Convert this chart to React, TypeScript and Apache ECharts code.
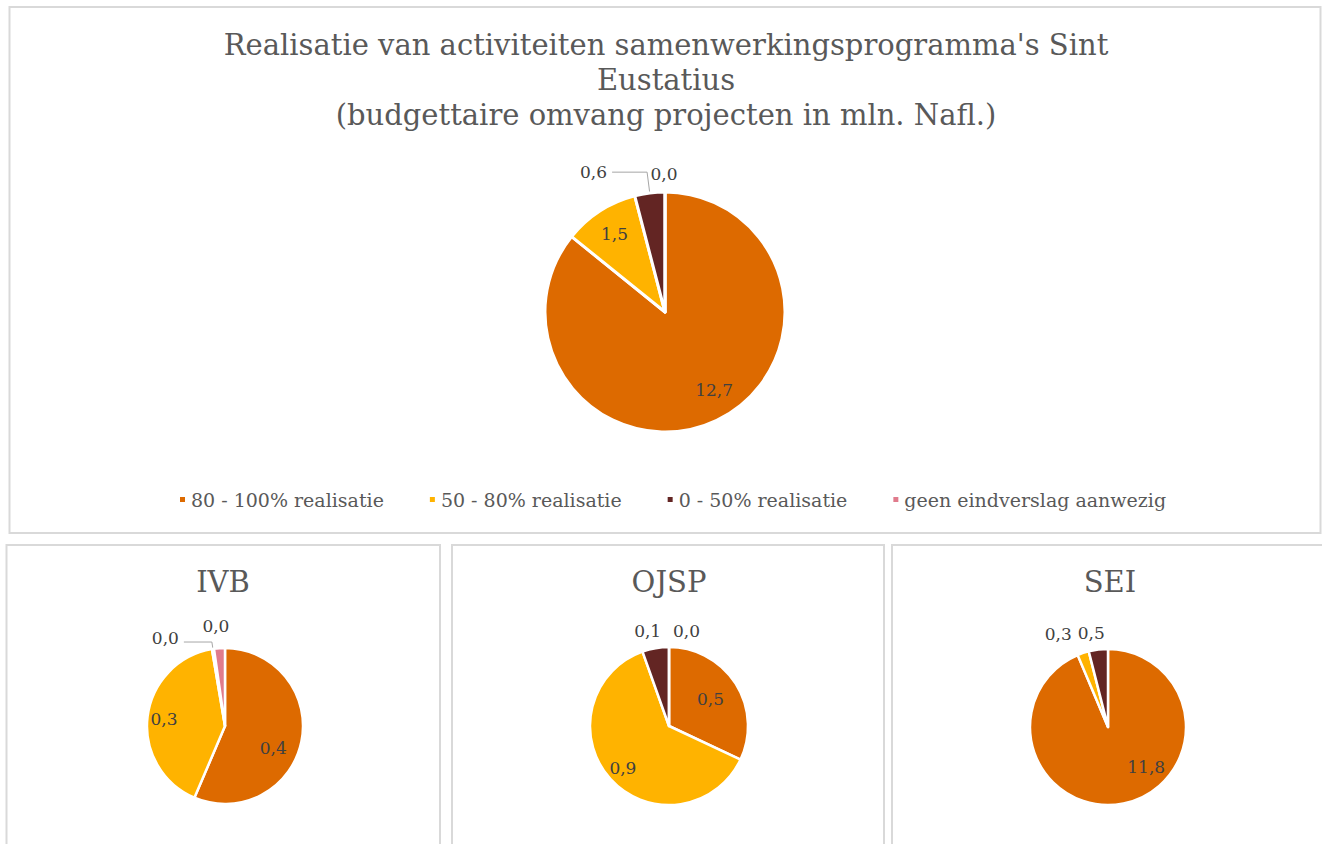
import React, { useEffect, useRef } from 'react';
import * as echarts from 'echarts';

// ---------- data ----------
const categories = ['80 - 100% realisatie', '50 - 80% realisatie', '0 - 50% realisatie', 'geen eindverslag aanwezig'];
const mainTitle = "Realisatie van activiteiten samenwerkingsprogramma's Sint\nEustatius\n(budgettaire omvang projecten in mln. Nafl.)";
const panelTitles = ['IVB', 'OJSP', 'SEI'];
const totalValues: (number | null)[] = [12.7, 1.5, 0.6, 0.0];
const ivbValues: (number | null)[] = [0.4, 0.29, 0.003, 0.016];
const ojspValues: (number | null)[] = [0.47, 0.92, 0.08, 0.0];
const seiValues: (number | null)[] = [11.8, 0.3, 0.5, null];

// ---------- styles ----------
const COLORS = ['#DD6A00', '#FFB300', '#632523', '#E07B8C'];
const FONT = "'DejaVu Serif', Georgia, serif";
const TEXT = '#595959';
const LABEL = '#404040';
const FRAME = '#d9d9d9';

type LabelCfg = { inside?: boolean; len?: number; len2?: number; line?: boolean; align?: string; dx?: number; dy?: number; hide?: boolean };

const pies: { id: string; values: (number | null)[]; center: number[]; r: number; border: number; labels: LabelCfg[] }[] = [
  {
    id: 'total', values: totalValues, center: [665, 312], r: 120, border: 3,
    labels: [{ inside: true, dx: 9, dy: -6 }, { inside: true }, { len: 21, len2: 35, line: true }, { len: 18, len2: 0, align: 'center', dx: 4 }],
  },
  {
    id: 'ivb', values: ivbValues, center: [225, 726], r: 78, border: 2.5,
    labels: [{ inside: true, dx: -12, dy: 10 }, { inside: true }, { len: 7, len2: 28, line: true, dy: -4 }, { len: 22, len2: 0, align: 'center', dx: 3 }],
  },
  {
    id: 'ojsp', values: ojspValues, center: [669, 726], r: 79, border: 2.5,
    labels: [{ inside: true, dx: -11, dy: 6 }, { inside: true }, { len: 17, len2: 0, align: 'center' }, { len: 16, len2: 0, align: 'left', dx: 9 }],
  },
  {
    id: 'sei', values: seiValues, center: [1108, 727], r: 78, border: 2.5,
    labels: [{ inside: true, dx: 26, dy: -20 }, { len: 20, len2: 0 }, { len: 17, len2: 0, align: 'center' }, { hide: true }],
  },
];

const panelTitleX = [218, 664, 1105];

function fmt(p: any) {
  return Number(p.value).toFixed(1).replace('.', ',');
}

function buildSeries() {
  const series: any[] = [];
  pies.forEach((c) => {
    const sectorData: any[] = [];
    const overlayData: any[] = [];
    const cfgs: LabelCfg[] = [];
    c.values.forEach((v, i) => {
      if (v == null) return;
      const lc = c.labels[i];
      cfgs.push(lc);
      const outside = !lc.inside && !lc.hide;
      sectorData.push({
        name: categories[i],
        value: v,
        itemStyle: { color: COLORS[i] },
        label: outside ? { show: true, position: 'outside' } : { show: false },
        labelLine: { show: !!lc.line, length: lc.len ?? 10, length2: lc.len2 ?? 0 },
      });
      overlayData.push({ name: categories[i], value: v, label: { show: !!lc.inside } });
    });
    const labelStyle = { fontFamily: FONT, fontSize: 17, color: LABEL, formatter: fmt };
    series.push({
      id: c.id,
      type: 'pie',
      center: c.center,
      radius: [0, c.r],
      startAngle: 90,
      clockwise: true,
      avoidLabelOverlap: false,
      minShowLabelAngle: 0,
      itemStyle: { borderColor: '#ffffff', borderWidth: c.border },
      label: { ...labelStyle, distanceToLabelLine: 5 },
      labelLine: { lineStyle: { color: '#a6a6a6', width: 1 }, smooth: false },
      emphasis: { disabled: true },
      labelLayout: (p: any) => {
        const lc = cfgs[p.dataIndex] || {};
        if (lc.inside) return {};
        const o: any = {};
        if (lc.align) o.align = lc.align;
        if (lc.dx) o.dx = lc.dx;
        if (lc.dy) o.dy = lc.dy;
        return o;
      },
      data: sectorData,
    });
    series.push({
      id: c.id + '-labels',
      type: 'pie',
      center: c.center,
      radius: [c.r * 0.5, c.r],
      startAngle: 90,
      clockwise: true,
      silent: true,
      legendHoverLink: false,
      avoidLabelOverlap: false,
      itemStyle: { color: 'rgba(0,0,0,0)', borderWidth: 0 },
      label: { ...labelStyle, position: 'inside' },
      labelLine: { show: false },
      emphasis: { disabled: true },
      labelLayout: (p: any) => {
        const lc = cfgs[p.dataIndex] || {};
        const o: any = {};
        if (lc.dx) o.dx = lc.dx;
        if (lc.dy) o.dy = lc.dy;
        return o;
      },
      data: overlayData,
    });
  });
  return series;
}

export default function App() {
  const ref = useRef<HTMLDivElement>(null);
  useEffect(() => {
    if (!ref.current) return;
    const chart = echarts.init(ref.current, undefined, { renderer: 'svg' });
    const frame = (x: number, y: number, w: number, h: number) => ({
      type: 'rect',
      shape: { x, y, width: w, height: h },
      style: { fill: 'none', stroke: FRAME, lineWidth: 2 },
      silent: true,
      z: -10,
    });
    chart.setOption({
      animation: false,
      backgroundColor: '#ffffff',
      title: [
        {
          text: mainTitle,
          left: 661,
          top: 22,
          textAlign: 'center',
          textStyle: { fontFamily: FONT, fontSize: 29, fontWeight: 'normal', color: TEXT, lineHeight: 35 },
        },
        ...panelTitles.map((t, i) => ({
          text: t,
          left: panelTitleX[i],
          top: 560,
          textAlign: 'center',
          textStyle: { fontFamily: FONT, fontSize: 29, fontWeight: 'normal', color: TEXT, lineHeight: 34 },
        })),
      ],
      legend: {
        show: true,
        left: 173,
        top: 485,
        orient: 'horizontal',
        icon: 'rect',
        itemWidth: 7,
        itemHeight: 7,
        itemGap: 44,
        selectedMode: false,
        textStyle: { fontFamily: FONT, fontSize: 19, color: TEXT },
        data: categories.map((n, i) => ({ name: n, itemStyle: { color: COLORS[i] } })),
      },
      graphic: [
        frame(9.5, 7, 1311, 526),
        frame(6.5, 545, 433.5, 400),
        frame(452, 545, 432, 400),
        frame(892, 545, 440, 400),
      ],
      series: buildSeries(),
    });
    return () => chart.dispose();
  }, []);
  return (
    <div
      ref={ref}
      style={{ position: 'absolute', left: 0, top: 0, width: 1322, height: 844, background: '#ffffff' }}
    />
  );
}
